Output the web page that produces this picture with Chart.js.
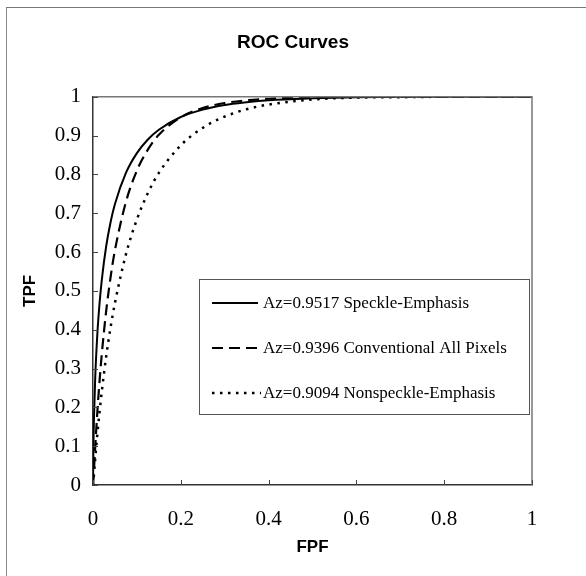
<!DOCTYPE html>
<html>
<head>
<meta charset="utf-8">
<script src="https://cdn.jsdelivr.net/npm/chart.js@4/dist/chart.umd.min.js"></script>
<style>
    html, body { margin: 0; padding: 0; background: #fff; }
    #wrap { position: relative; width: 586px; height: 576px; }
    #frame {
        position: absolute; left: 6px; top: 7px; right: 0; bottom: 0;
        border-top: 1px solid #777; border-left: 1px solid #888;
        pointer-events: none;
    }
</style>
</head>
<body>
<div id="wrap">
    <canvas id="chart" width="586" height="576"></canvas>
    <div id="frame"></div>
</div>
<script>
// FPF 取樣點（三條曲線共用）
const fpf = [0, 0.001, 0.002, 0.005, 0.01, 0.015, 0.02, 0.03, 0.04, 0.05, 0.075, 0.1, 0.125, 0.15, 0.2, 0.25, 0.3, 0.35, 0.4, 0.5, 0.6, 0.7, 0.8, 1];

// 各曲線 TPF 讀值
const speckle = [0, 0.105, 0.163, 0.275, 0.391, 0.469, 0.528, 0.615, 0.677, 0.724, 0.804, 0.855, 0.890, 0.915, 0.948, 0.967, 0.979, 0.986, 0.991, 0.996, 0.999, 1, 1, 1];
const conventional = [0, 0.015, 0.036, 0.097, 0.190, 0.269, 0.337, 0.448, 0.535, 0.605, 0.729, 0.810, 0.864, 0.902, 0.947, 0.971, 0.984, 0.991, 0.995, 0.999, 1, 1, 1, 1];
const nonspeckle = [0, 0.011, 0.025, 0.067, 0.132, 0.189, 0.241, 0.331, 0.406, 0.469, 0.594, 0.684, 0.752, 0.804, 0.875, 0.920, 0.949, 0.968, 0.980, 0.993, 0.998, 0.999, 1, 1];

const seriesLabels = [
    'Az=0.9517 Speckle-Emphasis',
    'Az=0.9396 Conventional All Pixels',
    'Az=0.9094 Nonspeckle-Emphasis'
];

// 座標軸刻度
const xTickValues = [0, 0.2, 0.4, 0.6, 0.8, 1];
const xTickLabels = ['0', '0.2', '0.4', '0.6', '0.8', '1'];
const yTickValues = [0, 0.1, 0.2, 0.3, 0.4, 0.5, 0.6, 0.7, 0.8, 0.9, 1];
const yTickLabels = ['0', '0.1', '0.2', '0.3', '0.4', '0.5', '0.6', '0.7', '0.8', '0.9', '1'];

const toPoints = (ys) => fpf.map((x, i) => ({ x: x, y: ys[i] }));

const serif = "'Liberation Serif', 'DejaVu Serif', serif";
const sans = "'Liberation Sans', Arial, sans-serif";

// 圖框：上、右邊灰線與向內刻度
const framePlugin = {
    id: 'frame',
    afterDraw(chart) {
        const { ctx, chartArea: a, scales } = chart;
        ctx.save();
        ctx.strokeStyle = '#777';
        ctx.lineWidth = 1.5;
        ctx.beginPath();
        ctx.moveTo(a.left, a.top);
        ctx.lineTo(a.right, a.top);
        ctx.lineTo(a.right, a.bottom);
        ctx.stroke();

        ctx.strokeStyle = '#444';
        ctx.lineWidth = 1;
        ctx.beginPath();
        yTickValues.forEach(v => {
            let py = Math.round(scales.y.getPixelForValue(v)) + 0.5;
            ctx.moveTo(a.left, py);
            ctx.lineTo(a.left + 5, py);
        });
        xTickValues.forEach(v => {
            let px = Math.round(scales.x.getPixelForValue(v)) + 0.5;
            ctx.moveTo(px, a.bottom);
            ctx.lineTo(px, a.bottom - 5);
        });
        ctx.stroke();
        ctx.restore();
    }
};

// 圖內圖例
const legendPlugin = {
    id: 'boxLegend',
    afterDatasetsDraw(chart) {
        const { ctx } = chart;
        const box = { x: 199.5, y: 279.5, w: 330, h: 135 };
        const rows = [303, 348, 393];
        ctx.save();
        ctx.fillStyle = '#fff';
        ctx.fillRect(box.x, box.y, box.w, box.h);
        ctx.strokeStyle = '#555';
        ctx.lineWidth = 1;
        ctx.strokeRect(box.x, box.y, box.w, box.h);

        ctx.font = '17px ' + serif;
        ctx.textBaseline = 'middle';
        ctx.textAlign = 'left';
        chart.data.datasets.forEach((ds, i) => {
            let y = rows[i];
            ctx.strokeStyle = '#000';
            ctx.lineWidth = ds.borderWidth;
            ctx.setLineDash(ds.borderDash || []);
            ctx.beginPath();
            ctx.moveTo(212, y);
            ctx.lineTo(i == 2 ? 261 : 258, y);
            ctx.stroke();
            ctx.setLineDash([]);
            ctx.fillStyle = '#000';
            ctx.fillText(ds.label, 263, y + 1);
        });
        ctx.restore();
    }
};

new Chart(document.querySelector('#chart'), {
    type: 'line',
    data: {
        datasets: [
            {
                label: seriesLabels[0],
                data: toPoints(speckle),
                borderColor: '#000',
                borderWidth: 2,
                borderDash: []
            },
            {
                label: seriesLabels[1],
                data: toPoints(conventional),
                borderColor: '#000',
                borderWidth: 2.2,
                borderDash: [11, 6]
            },
            {
                label: seriesLabels[2],
                data: toPoints(nonspeckle),
                borderColor: '#000',
                borderWidth: 2.5,
                borderDash: [2.5, 5.5]
            }
        ]
    },
    options: {
        responsive: false,
        animation: false,
        parsing: false,
        cubicInterpolationMode: 'monotone',
        pointRadius: 0,
        pointHoverRadius: 0,
        layout: { padding: 0 },
        plugins: {
            legend: { display: false },
            tooltip: { enabled: false },
            title: {
                display: true,
                text: 'ROC Curves',
                color: '#000',
                font: { family: sans, size: 19, weight: 'bold' },
                padding: { top: 31, bottom: 43 }
            }
        },
        scales: {
            x: {
                type: 'linear',
                min: 0,
                max: 1,
                afterFit: (scale) => { scale.height = 91; },
                afterBuildTicks: (scale) => { scale.ticks = xTickValues.map(v => ({ value: v })); },
                grid: { display: false, drawTicks: false },
                border: { display: true, color: '#333', width: 1.5 },
                ticks: {
                    padding: 22,
                    color: '#000',
                    font: { family: serif, size: 21 },
                    maxRotation: 0,
                    callback: (v, i) => xTickLabels[i]
                },
                title: {
                    display: true,
                    text: 'FPF',
                    color: '#000',
                    font: { family: sans, size: 17, weight: 'bold' },
                    padding: { top: 0, bottom: 18 }
                }
            },
            y: {
                type: 'linear',
                min: 0,
                max: 1,
                afterFit: (scale) => { scale.width = 93; },
                afterBuildTicks: (scale) => { scale.ticks = yTickValues.map(v => ({ value: v })); },
                grid: { display: false, drawTicks: false },
                border: { display: true, color: '#333', width: 1.5 },
                ticks: {
                    padding: 12,
                    color: '#000',
                    font: { family: serif, size: 21 },
                    callback: (v, i) => yTickLabels[i]
                },
                title: {
                    display: true,
                    text: 'TPF',
                    color: '#000',
                    font: { family: sans, size: 17, weight: 'bold' },
                    padding: { top: 20, bottom: 0 }
                }
            },
            // 右側留白用的空軸
            spacer: {
                type: 'linear',
                position: 'right',
                display: true,
                afterFit: (scale) => { scale.width = 54; },
                grid: { display: false, drawTicks: false },
                border: { display: false },
                ticks: { display: false }
            }
        }
    },
    plugins: [framePlugin, legendPlugin]
});
</script>
</body>
</html>
